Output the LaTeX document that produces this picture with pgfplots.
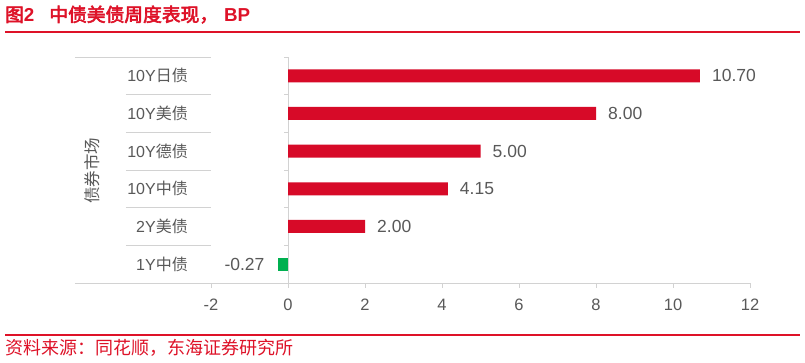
\documentclass[border=0pt]{standalone}
\usepackage{fontspec}
\setmainfont{Liberation Sans}
\newfontfamily\cjk{Noto Sans CJK SC}
\newfontfamily\cjkb{Noto Sans CJK SC}[FakeBold=3]
\usepackage{pgfplots}
\pgfplotsset{compat=1.18}
\definecolor{barred}{RGB}{215,10,40}
\definecolor{titlered}{RGB}{222,18,40}
\definecolor{bargreen}{RGB}{0,176,80}
\definecolor{textgray}{RGB}{89,89,89}
\definecolor{gridgray}{RGB}{210,210,210}
\begin{document}
\begin{tikzpicture}[x=1pt,y=1pt]
\useasboundingbox (0,0) rectangle (805,363);
\fill[white] (0,0) rectangle (805,363);
\node[anchor=base west, inner sep=0, text=titlered, font=\fontsize{18.75}{21}\selectfont] at (5,341.5) {{\cjkb 图}{\bfseries 2}\hspace{15pt}{\cjkb 中债美债周度表现，}\hspace{6pt}{\bfseries BP}};
\draw[titlered, line width=2pt] (5,331) -- (800,331);
\draw[titlered, line width=1.2pt] (5,28) -- (800,28);
\node[anchor=base west, inner sep=0, text=titlered, font=\cjk\fontsize{18}{20}\selectfont] at (5,8) {资料来源：同花顺，东海证券研究所};
\begin{axis}[
  at={(211pt,80pt)}, anchor=south west,
  scale only axis, width=539pt, height=226pt,
  xmin=-2, xmax=12, ymin=-0.5, ymax=5.5,
  axis line style={draw=none},
  xtick={-2,0,2,4,6,8,10,12},
  xtick pos=bottom, xtick align=outside,
  major tick length=5pt,
  xtick style={draw=gridgray, line width=0.8pt},
  ytick={0,1,2,3,4,5},
  yticklabels={1Y{\cjk 中债},2Y{\cjk 美债},10Y{\cjk 中债},10Y{\cjk 德债},10Y{\cjk 美债},10Y{\cjk 日债}},
  ytick style={draw=none},
  yticklabel style={anchor=east, inner sep=0pt, xshift=-18pt, text=textgray, font=\fontsize{16}{18}\selectfont},
  xticklabel style={anchor=north, inner sep=0pt, yshift=-11pt, text=textgray, font=\fontsize{16.5}{18}\selectfont},
  /pgf/number format/assume math mode=true,
  clip=false,
  xbar, bar width=13pt, bar shift=0pt,
  nodes near coords={\pgfmathprintnumber[fixed,zerofill,precision=2,assume math mode=true]{\pgfplotspointmeta}},
]
\draw[gridgray, line width=0.8pt] (axis cs:-2,5.5) ++(-136pt,0pt) -- (axis cs:-2,5.5);
\draw[gridgray, line width=0.8pt] (axis cs:-2,-0.5) ++(-136pt,0pt) -- (axis cs:12,-0.5);
\pgfplotsinvokeforeach{0.5,1.5,2.5,3.5,4.5}{
  \draw[gridgray, line width=0.8pt] (axis cs:-2,#1) ++(-85pt,0pt) -- (axis cs:-2,#1);
}
\draw[gridgray, line width=0.8pt] (axis cs:0,-0.5) -- (axis cs:0,5.5);
\pgfplotsinvokeforeach{0.5,1.5,2.5,3.5,4.5,5.5}{
  \draw[gridgray, line width=0.8pt] (axis cs:0,#1) -- ++(-4pt,0pt);
}
\addplot[draw=none, fill=barred,
  nodes near coords style={anchor=west, inner sep=0pt, xshift=12pt, text=textgray, font=\fontsize{17.5}{19}\selectfont}]
  coordinates {(2.00,1) (4.15,2) (5.00,3) (8.00,4) (10.70,5)};
\addplot[draw=none, fill=bargreen,
  nodes near coords style={anchor=east, inner sep=0pt, xshift=-13pt, text=textgray, font=\fontsize{17.5}{19}\selectfont}]
  coordinates {(-0.27,0)};
\end{axis}
\node[rotate=90, inner sep=0, text=textgray, font=\cjk\fontsize{16.5}{18}\selectfont] at (92,192) {债券市场};
\end{tikzpicture}
\end{document}
